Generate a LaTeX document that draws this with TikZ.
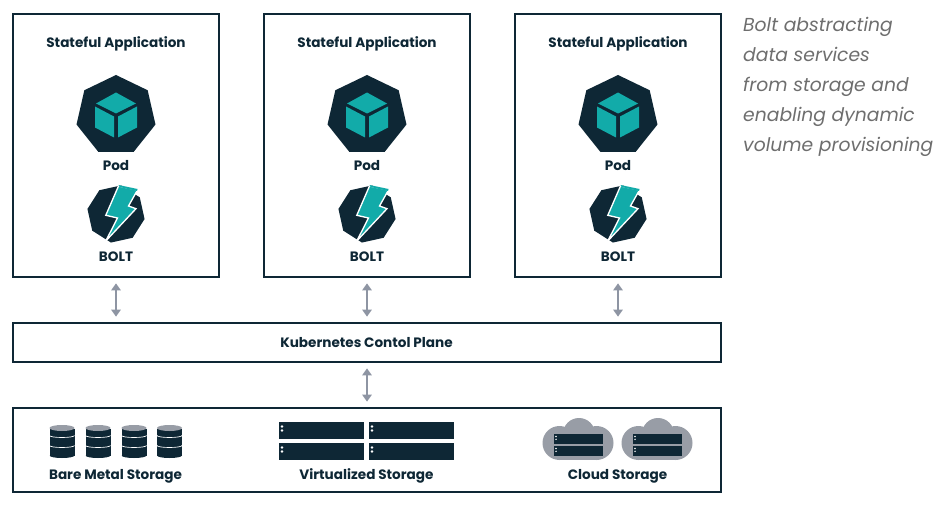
\documentclass[tikz,border=0pt]{standalone}
\usepackage{fontspec}
\setmainfont{Poppins}
\usetikzlibrary{positioning,arrows.meta}
\definecolor{navy}{HTML}{0E2735}
\definecolor{teal}{HTML}{12ABA9}
\definecolor{arrowgray}{HTML}{8E95A3}
\definecolor{cloudgray}{HTML}{989DA6}
\definecolor{notegray}{HTML}{6E6E6E}
\tikzset{
    panelnode/.style={draw=navy, line width=0.6mm, fill=white, inner sep=0pt},
    labelnode/.style={font=\fontsize{11.6}{13}\selectfont\bfseries, text=navy, inner sep=0pt},
    linkarrow/.style={draw=arrowgray, line width=0.7mm, {Triangle[length=2.1mm,width=2.8mm]}-{Triangle[length=2.1mm,width=2.8mm]}, shorten >=1.6mm, shorten <=1.6mm},
    %Icons, drawn in reference pixels around their centre
    podicon/.pic={
        \fill[navy] (-90:40.5) -- (-38.57:40.5) -- (12.86:40.5) -- (64.29:40.5) -- (115.71:40.5) -- (167.14:40.5) -- (218.57:40.5) -- cycle;
        \fill[teal] (0,-23) -- (20,-12) -- (0,-2) -- (-20,-12) -- cycle;
        \fill[teal] (-21,-9) -- (-2,1) -- (-2,22) -- (-21,12) -- cycle;
        \fill[teal] (21,-9) -- (2,1) -- (2,22) -- (21,12) -- cycle;
    },
    bolticon/.pic={
        \fill[navy] (10:29) -- (55:29) -- (100:29) -- (145:29) -- (190:29) -- (235:29) -- (280:29) -- (325:29) -- cycle;
        \filldraw[fill=teal, draw=white, line width=0.4mm, miter limit=3] (2.5,-28) -- (21.5,-24) -- (12.5,-8) -- (20,-5.3) -- (-10.2,27) -- (1.5,4) -- (-10.2,1.3) -- cycle;
        \fill[teal] (2.5,-29) -- (21.5,-25) -- (21,-23) -- (3.5,-27) -- cycle;
    },
    diskicon/.pic={
        \fill[navy] (-12.5,-13) rectangle (12.5,14);
        \fill[navy] (-12.5,14) arc[start angle=180,end angle=0,x radius=12.5,y radius=2.5] -- cycle;
        \fill[cloudgray] (0,-13.5) ellipse[x radius=12.5,y radius=3];
        \draw[white, line width=0.2mm] (-12.5,-6) arc[start angle=180,end angle=0,x radius=12.5,y radius=2];
        \draw[white, line width=0.2mm] (-12.5,4) arc[start angle=180,end angle=0,x radius=12.5,y radius=2];
    },
    servericon/.pic={
        \fill[navy] (-42.5,-8.5) rectangle (42.5,8.5);
        \fill[white] (-39.5,-4) circle (1.4) (-39.5,0) circle (1.4);
    },
    minisericon/.pic={
        \fill[navy] (-24.5,-5) rectangle (24.5,5);
        \fill[white] (-22,-2.5) circle (0.8) (-22,0.3) circle (0.8);
    },
    cloudicon/.pic={
        \fill[cloudgray] (-18.5,5) circle (17) (18.5,5) circle (17) (1,-4) circle (16);
        \fill[cloudgray] (-18.5,0) rectangle (18.5,22);
        \pic at (0,1) {minisericon};
        \pic at (0,13) {minisericon};
    },
}
\begin{document}
\begin{tikzpicture}[x=0.03cm, y=-0.03cm]
    \useasboundingbox (0,0) rectangle (950,511);

    %Boxes
    \node[panelnode, minimum width=6.18cm, minimum height=7.89cm](app1) at (116,145.5) {};
    \node[panelnode, minimum width=6.18cm, minimum height=7.89cm](app2) at (367,145.5) {};
    \node[panelnode, minimum width=6.18cm, minimum height=7.89cm](app3) at (618,145.5) {};
    \node[panelnode, minimum width=21.24cm, minimum height=1.17cm](plane) at (367,342.5) {};
    \node[panelnode, minimum width=21.24cm, minimum height=2.52cm](storage) at (367,450) {};

    %Application columns
    \foreach \name/\xpos in {app1/116, app2/367, app3/618} {
        \node[labelnode] (\name title) at (\xpos,44) {Stateful Application};
        \pic at (\xpos,115.5) {podicon};
        \node[labelnode] (\name pod) at (\xpos,165.5) {Pod};
        \pic at (\xpos,214) {bolticon};
        \node[labelnode] (\name bolt) at (\xpos,256.5) {BOLT};
        \draw[linkarrow] (\name.south) -- (\name.south |- plane.north);
    }

    \node[labelnode](planelabel) at (366.5,343) {Kubernetes Contol Plane};
    \draw[linkarrow] (plane.south) -- (storage.north);

    %Storage
    \foreach \xpos in {62, 98, 134, 169.5} {
        \pic at (\xpos,441.5) {diskicon};
    }
    \foreach \xpos in {321.5, 411.5} {
        \pic at (\xpos,430.5) {servericon};
        \pic at (\xpos,451.5) {servericon};
    }
    \pic at (578,438) {cloudicon};
    \pic at (657,438) {cloudicon};
    \node[labelnode](baremetal) at (115.5,476) {Bare Metal Storage};
    \node[labelnode](virtual) at (366.5,476) {Virtualized Storage};
    \node[labelnode](cloud) at (617.5,476) {Cloud Storage};

    %Note
    \node[anchor=north west, align=left, text=notegray, inner sep=0pt, font=\fontsize{16}{25.5}\selectfont\itshape](note) at (743,17.5) {Bolt abstracting\\data services\\from storage and\\enabling dynamic\\volume provisioning};
\end{tikzpicture}
\end{document}
